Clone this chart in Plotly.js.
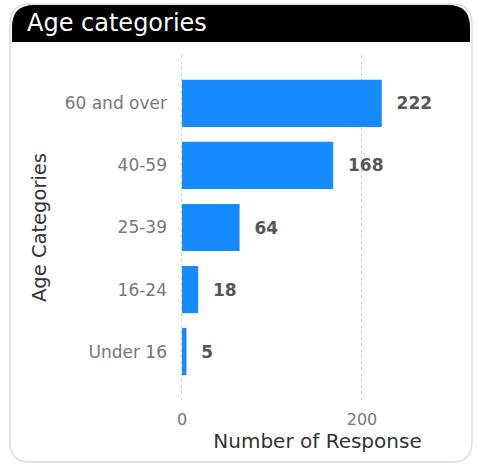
<!DOCTYPE html>
<html>
<head>
<meta charset="utf-8">
<script src="https://cdn.plot.ly/plotly-3.0.1.min.js"></script>
<style>html,body{margin:0;padding:0;background:#fff;}#chart{width:478px;height:465px;}</style>
</head>
<body>
<div id="chart"></div>
<script>
const categories = ["60 and over", "40-59", "25-39", "16-24", "Under 16"];
const responses = [222, 168, 64, 18, 5];
const xTicks = [0, 200];

const W = 478, H = 465;
const m = {l: 180, r: 23, t: 55, b: 65};
const pw = W - m.l - m.r, ph = H - m.t - m.b;
const px = v => (v - m.l) / pw;
const py = v => (H - m.b - v) / ph;

function roundTop(x0, x1, y0, y1, r) {
  const X0 = px(x0), X1 = px(x1), YT = py(y0), YB = py(y1);
  const rx = r / pw, ry = r / ph;
  return `M ${X0},${YB} L ${X0},${YT - ry} Q ${X0},${YT} ${X0 + rx},${YT} L ${X1 - rx},${YT} Q ${X1},${YT} ${X1},${YT - ry} L ${X1},${YB} Z`;
}
function roundAll(x0, x1, y0, y1, r) {
  const X0 = px(x0), X1 = px(x1), YT = py(y0), YB = py(y1);
  const rx = r / pw, ry = r / ph;
  return `M ${X0},${YB + ry} L ${X0},${YT - ry} Q ${X0},${YT} ${X0 + rx},${YT} L ${X1 - rx},${YT} Q ${X1},${YT} ${X1},${YT - ry} L ${X1},${YB + ry} Q ${X1},${YB} ${X1 - rx},${YB} L ${X0 + rx},${YB} Q ${X0},${YB} ${X0},${YB + ry} Z`;
}

const font = "'DejaVu Sans', sans-serif";
const x0off = 2.2;

const trace = {
  type: 'bar',
  orientation: 'h',
  y: categories,
  x: responses,
  marker: {color: '#168BFF'},
  width: 0.76,
  text: responses.map(v => '  ' + v),
  textposition: 'outside',
  cliponaxis: false,
  textfont: {family: font, size: 17, color: '#555555', weight: 'bold'},
  hoverinfo: 'skip'
};

const layout = {
  width: W, height: H,
  margin: m,
  paper_bgcolor: '#ffffff',
  plot_bgcolor: 'rgba(0,0,0,0)',
  showlegend: false,
  font: {family: font},
  title: {
    text: 'Age categories',
    font: {family: font, size: 24, color: '#ffffff'},
    x: 27 / W, xanchor: 'left', xref: 'container',
    y: 1 - 23 / H, yanchor: 'middle', yref: 'container'
  },
  xaxis: {
    range: [-x0off, (pw / 0.9) - x0off],
    tickvals: xTicks,
    ticktext: xTicks.map(String),
    showgrid: true,
    gridcolor: '#d0d0d0',
    griddash: 'dot',
    gridwidth: 1,
    zeroline: false,
    showline: false,
    ticks: '',
    ticklabelstandoff: 8,
    tickfont: {family: font, size: 16, color: '#777777'},
    title: {text: 'Number of Response', font: {family: font, size: 20, color: '#333333'}, standoff: 4},
    fixedrange: true
  },
  yaxis: {
    type: 'category',
    range: [4.78, -0.78],
    showgrid: false,
    zeroline: false,
    showline: false,
    ticks: '',
    ticklabelstandoff: 12,
    tickfont: {family: font, size: 17, color: '#777777'},
    title: {text: 'Age Categories', font: {family: font, size: 19.5, color: '#333333'}, standoff: 12},
    fixedrange: true
  },
  shapes: [
    {type: 'path', xref: 'paper', yref: 'paper', path: roundAll(10, 472, 4, 462, 20),
     fillcolor: '#ffffff', line: {color: '#dcdcdc', width: 1.5}, layer: 'below'},
    {type: 'path', xref: 'paper', yref: 'paper', path: roundTop(12, 470, 5, 42, 22),
     fillcolor: '#000000', line: {width: 0}, layer: 'below'}
  ]
};

Plotly.newPlot('chart', [trace], layout, {displayModeBar: false, staticPlot: true});
</script>
</body>
</html>
